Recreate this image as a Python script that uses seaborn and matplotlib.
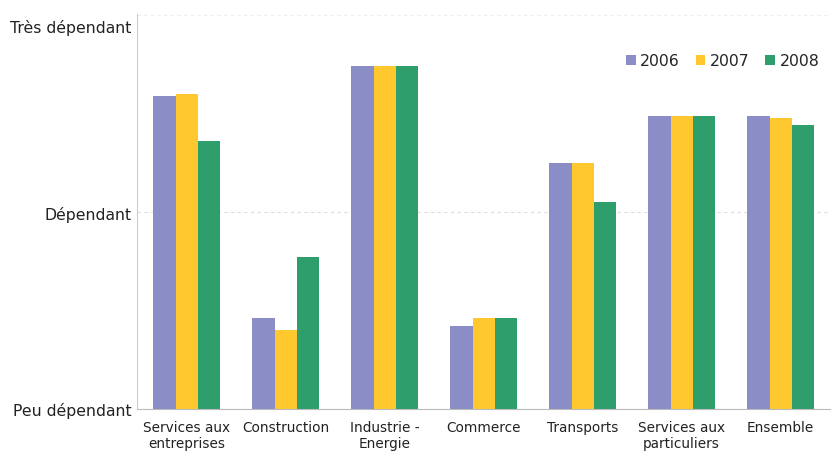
import pandas as pd
import matplotlib.pyplot as plt
import seaborn as sns

# Secteurs et niveau de dépendance (0 = peu, 1 = dépendant, 2 = très)
secteurs = ["Services aux\nentreprises", "Construction", "Industrie -\nEnergie",
            "Commerce", "Transports", "Services aux\nparticuliers", "Ensemble"]
annees = ["2006", "2007", "2008"]
val_2006 = [1.59, 0.46, 1.74, 0.42, 1.25, 1.49, 1.49]
val_2007 = [1.60, 0.40, 1.74, 0.46, 1.25, 1.49, 1.48]
val_2008 = [1.36, 0.77, 1.74, 0.46, 1.05, 1.49, 1.44]
niveaux = ["Peu dépendant", "Dépendant", "Très dépendant"]
couleurs = ["#8a8dc6", "#fec82e", "#2e9e6c"]

df = pd.DataFrame({
    "secteur": secteurs * 3,
    "annee": [a for a in annees for _ in secteurs],
    "valeur": val_2006 + val_2007 + val_2008,
})

sns.set_style("white")
plt.rcParams['font.family'] = ['DejaVu Sans']

fig = plt.figure(figsize=(8.31, 4.60), dpi=100)
ax = fig.add_axes([0.165, 0.109, 0.834, 0.858])

sns.barplot(data=df, x="secteur", y="valeur", hue="annee", palette=couleurs,
            width=0.67, gap=0, saturation=1, errorbar=None, linewidth=0,
            edgecolor="none", ax=ax, zorder=2)

ax.set_ylim(0, 2.005)
ax.set_xlim(-0.5, 6.5)
ax.set_yticks([0, 1, 1.95])
ax.set_yticklabels(niveaux, fontsize=11.3, color="#222222")
ax.tick_params(axis="y", length=0, pad=4)
ax.tick_params(axis="x", length=0, labelsize=9.8, pad=8, colors="#222222")

# graduations entre les catégories
ax.set_xticks([i + 0.5 for i in range(-1, 7)], minor=True)
ax.tick_params(axis="x", which="minor", length=4, color="#bbbbbb", direction="out")

ax.axhline(1, color="#dddddd", lw=0.8, ls=(0, (3, 3)), zorder=0)
ax.axhline(2.0, color="#eeeeee", lw=0.8, ls=(0, (3, 3)), zorder=0)

for s in ["top", "right"]:
    ax.spines[s].set_visible(False)
ax.spines["left"].set_color("#cccccc")
ax.spines["bottom"].set_color("#bbbbbb")

ax.set_xlabel("")
ax.set_ylabel("")
ax.legend(loc="upper right", bbox_to_anchor=(0.998, 0.925), ncol=3, frameon=False,
          fontsize=11.3, handlelength=0.6, handleheight=0.6, handletextpad=0.3,
          columnspacing=1.0, borderaxespad=0.2)

fig.savefig("out.png", dpi=100)
